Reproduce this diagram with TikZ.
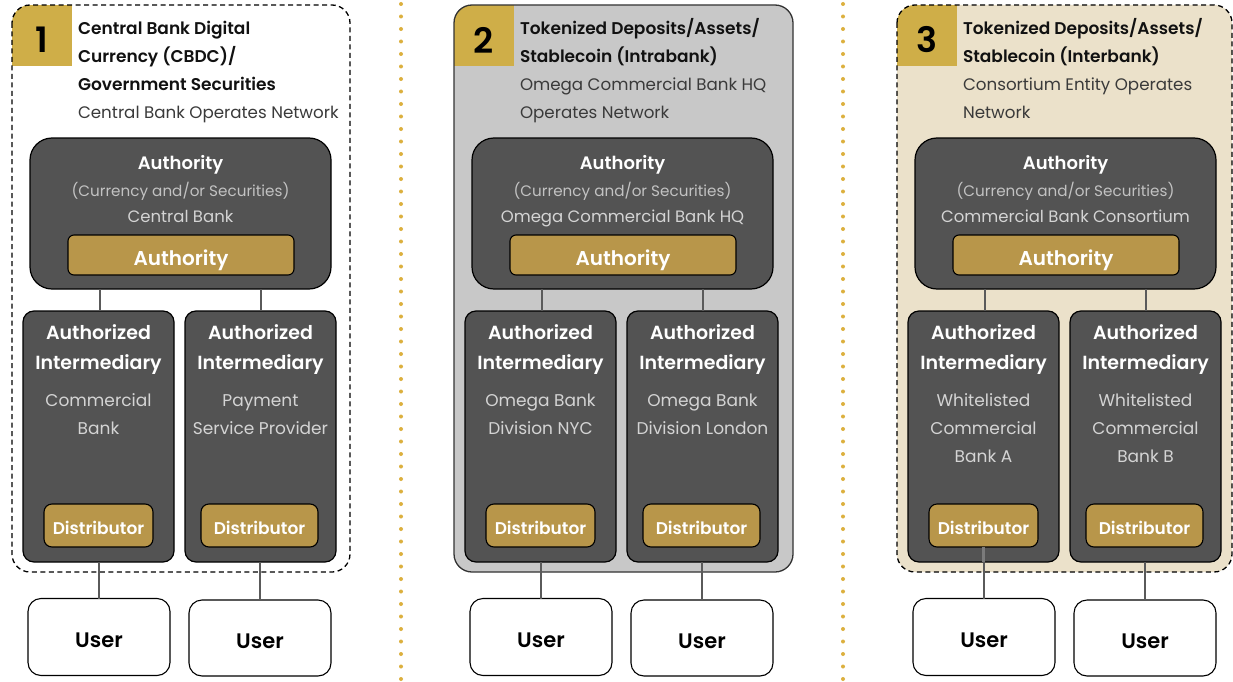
\documentclass[tikz,border=0pt]{standalone}
\usepackage{fontspec}
\setmainfont{Poppins}[BoldFont={Poppins SemiBold}]

\definecolor{darkfill}{HTML}{535353}
\definecolor{goldfill}{HTML}{B8964A}
\definecolor{numgold}{HTML}{CFAE48}
\definecolor{sepgold}{HTML}{DCB03E}
\definecolor{panelgrey}{HTML}{C8C8C8}
\definecolor{panelbeige}{HTML}{EBE1CA}
\definecolor{subgrey}{HTML}{D4D4D4}
\definecolor{paren}{HTML}{C2C2C2}
\definecolor{linkgrey}{HTML}{5A5A5A}
\definecolor{titleblack}{HTML}{111111}
\definecolor{titlegrey}{HTML}{3A3A3A}

\newcommand\hd[1]{{\bfseries\fontsize{17}{20}\selectfont\color{titleblack}#1}}

\tikzset{
  every node/.style={inner sep=0pt, outer sep=0pt},
  panelbox/.style={rounded corners=18pt, line width=1.3pt},
  dashedpanel/.style={panelbox, draw=black, dash pattern=on 5pt off 3.5pt},
  solidpanel/.style={panelbox, draw=black!80},
  authbox/.style={draw=black, fill=darkfill, line width=1.2pt, rounded corners=22pt},
  authtag/.style={draw=black, fill=goldfill, line width=1.1pt, rounded corners=6pt,
    text=white, font=\bfseries\fontsize{20}{24}\selectfont, text height=20pt, text depth=0pt},
  interbox/.style={draw=black, fill=darkfill, line width=1.2pt, rounded corners=11pt},
  disttag/.style={draw=black, fill=goldfill, line width=1.1pt, rounded corners=8pt,
    text=white, font=\bfseries\fontsize{17}{20}\selectfont, text height=17pt, text depth=0pt},
  userbox/.style={draw=black, fill=white, line width=1.1pt, rounded corners=13pt,
    text=black, font=\bfseries\fontsize{21}{24}\selectfont, text height=20.5pt, text depth=0pt},
  link/.style={draw=linkgrey, line width=2.6pt},
  numtext/.style={text=black, font=\bfseries\fontsize{35}{40}\selectfont},
  titleline/.style={anchor=base west, text=titlegrey, font=\fontsize{16.7}{20}\selectfont},
  authhead/.style={anchor=base, text=white, font=\bfseries\fontsize{18}{22}\selectfont},
  authparen/.style={anchor=base, text=paren, font=\fontsize{15.2}{20}\selectfont},
  authorg/.style={anchor=base, text=subgrey, font=\fontsize{16.5}{20}\selectfont},
  interhead/.style={anchor=base, text=white, font=\bfseries\fontsize{19}{24}\selectfont},
  intersub/.style={anchor=base, text=subgrey, font=\fontsize{17}{20}\selectfont},
  separator/.style={draw=sepgold, line width=4pt, line cap=round, dash pattern=on 0pt off 12.5pt},
}

% #1 x offset, #2 name prefix, #3 panel style, #4 number, #5 title lines,
% #6 authority organisation, #7 left intermediary lines, #8 right intermediary lines,
% #9 right edge of the panel
\newcommand\cbpanel[9]{%
\begin{scope}[xshift=#1pt]
  \path[#3, draw=none] (12,5) rectangle (#9,572);
  \begin{scope}
    \clip[rounded corners=18pt] (12,5) rectangle (#9,572);
    \fill[numgold] (12,5) rectangle (72,66);
  \end{scope}
  \path[#3, fill=none] (12,5) rectangle (#9,572);
  \node[numtext] (#2num) at (42,40) {#4};
  \foreach \t [count=\i] in {#5}
    \node[titleline] (#2t\i) at ({78},{35+28*(\i-1)}) {\t};
  % authority
  \node[authbox, minimum width=301pt, minimum height=151pt] (#2auth) at (180.5,213.5) {};
  \node[authhead] (#2ah) at (180.5,169) {Authority};
  \node[authparen] (#2ap) at (180.5,196) {(Currency and/or Securities)};
  \node[authorg] (#2ao) at (180.5,222) {#6};
  \node[authtag, minimum width=226pt, minimum height=40pt] (#2at) at (181,255) {Authority};
  % intermediaries
  \node[interbox, minimum width=151pt, minimum height=251pt] (#2il) at (98.5,436.5) {};
  \node[interbox, minimum width=151pt, minimum height=251pt] (#2ir) at (260.5,436.5) {};
  \node[interhead] (#2ilh1) at (98.5,339) {Authorized};
  \node[interhead] (#2ilh2) at (98.5,369) {Intermediary};
  \node[interhead] (#2irh1) at (260.5,339) {Authorized};
  \node[interhead] (#2irh2) at (260.5,369) {Intermediary};
  \foreach \t [count=\i] in {#7}
    \node[intersub] (#2ils\i) at ({98.5},{406+28*(\i-1)}) {\t};
  \foreach \t [count=\i] in {#8}
    \node[intersub] (#2irs\i) at ({260.5},{406+28*(\i-1)}) {\t};
  \node[disttag, minimum width=109pt, minimum height=43pt] (#2dl) at (98.5,525.5) {Distributor};
  \node[disttag, minimum width=117pt, minimum height=43pt] (#2dr) at (259.5,525.5) {Distributor};
  % users
  \node[userbox, minimum width=142pt, minimum height=77pt] (#2ul) at (99,637) {User};
  \node[userbox, minimum width=142pt, minimum height=76pt] (#2ur) at (260,638) {User};
  % connectors
  \draw[link] (#2il.north -| 100,0) -- (#2auth.south -| 100,0);
  \draw[link] (#2ir.north -| 261,0) -- (#2auth.south -| 261,0);
  \draw[link] (#2ul.north) -- (#2ul.north |- #2il.south);
  \draw[link] (#2ur.north) -- (#2ur.north |- #2ir.south);
\end{scope}}

\begin{document}
\begin{tikzpicture}[x=1pt, y=-1pt]
  \useasboundingbox[fill=white] (0,0) rectangle (1233,682);

  \cbpanel{0}{p1}{dashedpanel, fill=white}{1}
    {{\hd{Central Bank Digital}},{\hd{Currency (CBDC)/}},{\hd{Government Securities}},{Central Bank Operates Network}}
    {Central Bank}
    {{Commercial},{Bank}}
    {{Payment},{Service Provider}}
    {350}

  \cbpanel{442}{p2}{solidpanel, fill=panelgrey}{2}
    {{\hd{Tokenized Deposits/Assets/}},{\hd{Stablecoin (Intrabank)}},{Omega Commercial Bank HQ},{Operates Network}}
    {Omega Commercial Bank HQ}
    {{Omega Bank},{Division NYC}}
    {{Omega Bank},{Division London}}
    {351}

  \cbpanel{885}{p3}{dashedpanel, fill=panelbeige}{3}
    {{\hd{Tokenized Deposits/Assets/}},{\hd{Stablecoin (Interbank)}},{Consortium Entity Operates},{Network}}
    {Commercial Bank Consortium}
    {{Whitelisted},{Commercial},{Bank A}}
    {{Whitelisted},{Commercial},{Bank B}}
    {347}

  % the Bank A link runs on from its distributor tag
  \draw[link, draw=linkgrey!80] (p3dl.south) -- (p3dl.south |- p3il.south);

  % dotted separators between the three models
  \coordinate (s1top) at (401,4);
  \coordinate (s1bot) at (401,682);
  \coordinate (s2top) at (843,4);
  \coordinate (s2bot) at (843,682);
  \draw[separator] (s1top) -- (s1bot);
  \draw[separator] (s2top) -- (s2bot);
\end{tikzpicture}
\end{document}
